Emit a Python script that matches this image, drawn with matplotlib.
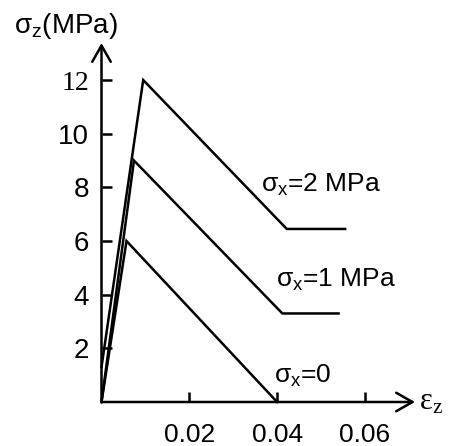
import matplotlib
matplotlib.use("Agg")
import matplotlib.pyplot as plt

plt.rcParams['font.family'] = ['Liberation Sans', 'DejaVu Sans']
plt.rcParams['mathtext.fontset'] = 'custom'
plt.rcParams['mathtext.rm'] = 'Liberation Sans'

# data (strain eps_z, stress sigma_z in MPa)
eps_s0 = [0.0, 0.0057, 0.040]
sig_s0 = [0.0, 6.0, 0.0]
eps_s1 = [0.0, 0.0074, 0.0412, 0.054]
sig_s1 = [0.0, 9.0, 3.3, 3.3]
eps_s2 = [0.0, 0.0095, 0.0422, 0.0555]
sig_s2 = [1.3, 12.0, 6.45, 6.45]

xticks = [0.02, 0.04, 0.06]
xticklabels = ['0.02', '0.04', '0.06']
yticks = [2, 4, 6, 8, 10, 12]
yticklabels = ['2', '4', '6', '8', '10', '12']

labels = ['$\\mathregular{σ_x}$=0', '$\\mathregular{σ_x}$=1 MPa', '$\\mathregular{σ_x}$=2 MPa']
label_pos = [(0.0393, 0.70), (0.0398, 4.30), (0.0364, 7.84)]

W, H = 455, 446
fig = plt.figure(figsize=(W / 100, H / 100), dpi=100)
x0, y0, x1, y1 = 101.5, 402, 415, 43
ax = fig.add_axes([x0 / W, (H - y0) / H, (x1 - x0) / W, (y0 - y1) / H])
ax.set_xlim(0, (x1 - x0) / 4390)
ax.set_ylim(0, (y0 - y1) / 26.83)

for s in ax.spines.values():
    s.set_visible(False)

lw = 1.8
for ex, sy in [(eps_s0, sig_s0), (eps_s1, sig_s1), (eps_s2, sig_s2)]:
    ax.plot(ex, sy, color='black', lw=lw, solid_joinstyle='miter', clip_on=False)

arrow = dict(arrowstyle='->,head_length=0.65,head_width=0.37', lw=lw, color='black',
             mutation_scale=18, shrinkA=0, shrinkB=0)
ax.annotate('', xy=(1, 0), xytext=(0, 0), xycoords='axes fraction', arrowprops=arrow)
ax.annotate('', xy=(0, 1), xytext=(0, 0), xycoords='axes fraction', arrowprops=arrow)

ax.set_xticks(xticks)
ax.set_xticklabels(xticklabels, fontsize=19)
ax.set_yticks(yticks)
ax.set_yticklabels(yticklabels, fontsize=20)
ax.tick_params(axis='both', direction='in', length=7, width=lw, color='black')
ax.tick_params(axis='x', pad=15)
ax.tick_params(axis='y', pad=9)
ax.get_yticklabels()[-1].set_family('Liberation Serif')

for txt, (ex, sy) in zip(labels, label_pos):
    ax.text(ex, sy, txt, fontsize=19, ha='left', va='baseline')

fig.text(14 / W, 1 - 33 / H, '$\\mathregular{σ_z}$(MPa)', fontsize=20, ha='left', va='baseline')
fig.text(419 / W, 1 - 410 / H, '$\\mathregular{ε_z}$', fontsize=22, ha='left', va='baseline',
         family='Liberation Serif')

fig.savefig('out.png', dpi=100)
